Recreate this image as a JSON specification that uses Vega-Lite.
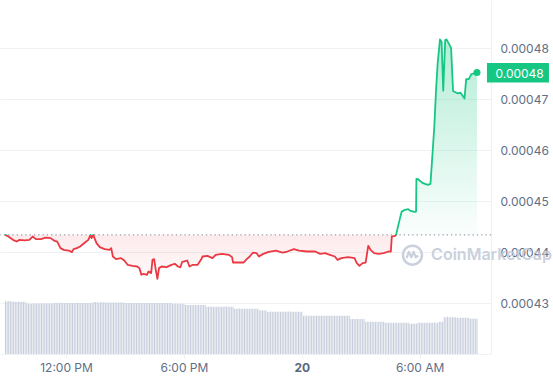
{
 "$schema": "https://vega.github.io/schema/vega-lite/v6.json",
 "width": 491, "height": 354,
 "autosize": {"type": "none"},
 "padding": {"left": 0, "top": 0, "right": 62, "bottom": 26},
 "background": "#ffffff",
 "config": {
  "view": {"stroke": null},
  "font": "Inter",
  "axis": {"labelFont": "Inter", "labelFontSize": 12, "labelColor": "#616e85", "gridColor": "#eff2f5", "domainColor": "#eff2f5", "tickColor": "#eff2f5"}
 },
 "datasets": {
  "price": [
{"t":"2024-05-19T08:55Z","p":0.00044339},
{"t":"2024-05-19T09:04Z","p":0.00044306},
{"t":"2024-05-19T09:18Z","p":0.00044241},
{"t":"2024-05-19T09:29Z","p":0.00044208},
{"t":"2024-05-19T09:38Z","p":0.00044241},
{"t":"2024-05-19T09:53Z","p":0.00044231},
{"t":"2024-05-19T10:08Z","p":0.00044241},
{"t":"2024-05-19T10:18Z","p":0.00044306},
{"t":"2024-05-19T10:28Z","p":0.00044255},
{"t":"2024-05-19T10:43Z","p":0.00044255},
{"t":"2024-05-19T10:58Z","p":0.00044286},
{"t":"2024-05-19T11:13Z","p":0.00044275},
{"t":"2024-05-19T11:23Z","p":0.00044227},
{"t":"2024-05-19T11:33Z","p":0.00044208},
{"t":"2024-05-19T11:43Z","p":0.00044078},
{"t":"2024-05-19T11:53Z","p":0.00044045},
{"t":"2024-05-19T12:08Z","p":0.00044031},
{"t":"2024-05-19T12:18Z","p":0.00044000},
{"t":"2024-05-19T12:23Z","p":0.00044059},
{"t":"2024-05-19T12:33Z","p":0.00044078},
{"t":"2024-05-19T12:43Z","p":0.00044110},
{"t":"2024-05-19T12:58Z","p":0.00044188},
{"t":"2024-05-19T13:08Z","p":0.00044241},
{"t":"2024-05-19T13:15Z","p":0.00044339},
{"t":"2024-05-19T13:18Z","p":0.00044275},
{"t":"2024-05-19T13:23Z","p":0.00044339},
{"t":"2024-05-19T13:33Z","p":0.00044176},
{"t":"2024-05-19T13:43Z","p":0.00044098},
{"t":"2024-05-19T13:58Z","p":0.00044059},
{"t":"2024-05-19T14:13Z","p":0.00044045},
{"t":"2024-05-19T14:18Z","p":0.00044078},
{"t":"2024-05-19T14:23Z","p":0.00043914},
{"t":"2024-05-19T14:33Z","p":0.00043863},
{"t":"2024-05-19T14:48Z","p":0.00043882},
{"t":"2024-05-19T14:58Z","p":0.00043835},
{"t":"2024-05-19T15:08Z","p":0.00043751},
{"t":"2024-05-19T15:23Z","p":0.00043731},
{"t":"2024-05-19T15:37Z","p":0.00043718},
{"t":"2024-05-19T15:44Z","p":0.00043686},
{"t":"2024-05-19T15:50Z","p":0.00043555},
{"t":"2024-05-19T15:57Z","p":0.00043575},
{"t":"2024-05-19T16:07Z","p":0.00043555},
{"t":"2024-05-19T16:12Z","p":0.00043620},
{"t":"2024-05-19T16:20Z","p":0.00043588},
{"t":"2024-05-19T16:24Z","p":0.00043849},
{"t":"2024-05-19T16:29Z","p":0.00043863},
{"t":"2024-05-19T16:34Z","p":0.00043653},
{"t":"2024-05-19T16:39Z","p":0.00043476},
{"t":"2024-05-19T16:44Z","p":0.00043686},
{"t":"2024-05-19T16:52Z","p":0.00043718},
{"t":"2024-05-19T17:07Z","p":0.00043706},
{"t":"2024-05-19T17:22Z","p":0.00043751},
{"t":"2024-05-19T17:32Z","p":0.00043771},
{"t":"2024-05-19T17:42Z","p":0.00043718},
{"t":"2024-05-19T17:49Z","p":0.00043702},
{"t":"2024-05-19T17:55Z","p":0.00043810},
{"t":"2024-05-19T18:10Z","p":0.00043835},
{"t":"2024-05-19T18:17Z","p":0.00043718},
{"t":"2024-05-19T18:27Z","p":0.00043751},
{"t":"2024-05-19T18:42Z","p":0.00043751},
{"t":"2024-05-19T18:52Z","p":0.00043849},
{"t":"2024-05-19T18:57Z","p":0.00043914},
{"t":"2024-05-19T19:12Z","p":0.00043927},
{"t":"2024-05-19T19:27Z","p":0.00043882},
{"t":"2024-05-19T19:37Z","p":0.00043947},
{"t":"2024-05-19T19:57Z","p":0.00043967},
{"t":"2024-05-19T20:17Z","p":0.00043947},
{"t":"2024-05-19T20:27Z","p":0.00043902},
{"t":"2024-05-19T20:30Z","p":0.00043796},
{"t":"2024-05-19T20:47Z","p":0.00043796},
{"t":"2024-05-19T21:02Z","p":0.00043796},
{"t":"2024-05-19T21:12Z","p":0.00043863},
{"t":"2024-05-19T21:21Z","p":0.00043914},
{"t":"2024-05-19T21:31Z","p":0.00043992},
{"t":"2024-05-19T21:42Z","p":0.00043980},
{"t":"2024-05-19T21:49Z","p":0.00043914},
{"t":"2024-05-19T22:01Z","p":0.00043961},
{"t":"2024-05-19T22:16Z","p":0.00044000},
{"t":"2024-05-19T22:41Z","p":0.00044031},
{"t":"2024-05-19T22:51Z","p":0.00044012},
{"t":"2024-05-19T23:01Z","p":0.00043992},
{"t":"2024-05-19T23:16Z","p":0.00044012},
{"t":"2024-05-19T23:36Z","p":0.00044059},
{"t":"2024-05-19T23:51Z","p":0.00044031},
{"t":"2024-05-20T00:16Z","p":0.00044012},
{"t":"2024-05-20T00:41Z","p":0.00044012},
{"t":"2024-05-20T00:56Z","p":0.00043967},
{"t":"2024-05-20T01:11Z","p":0.00043980},
{"t":"2024-05-20T01:26Z","p":0.00043947},
{"t":"2024-05-20T01:41Z","p":0.00043914},
{"t":"2024-05-20T01:49Z","p":0.00043849},
{"t":"2024-05-20T02:01Z","p":0.00043882},
{"t":"2024-05-20T02:21Z","p":0.00043902},
{"t":"2024-05-20T02:41Z","p":0.00043882},
{"t":"2024-05-20T02:48Z","p":0.00043784},
{"t":"2024-05-20T02:56Z","p":0.00043731},
{"t":"2024-05-20T03:06Z","p":0.00043784},
{"t":"2024-05-20T03:15Z","p":0.00043796},
{"t":"2024-05-20T03:23Z","p":0.00044124},
{"t":"2024-05-20T03:30Z","p":0.00044045},
{"t":"2024-05-20T03:41Z","p":0.00043980},
{"t":"2024-05-20T03:55Z","p":0.00043967},
{"t":"2024-05-20T04:10Z","p":0.00043980},
{"t":"2024-05-20T04:25Z","p":0.00044012},
{"t":"2024-05-20T04:32Z","p":0.00044012},
{"t":"2024-05-20T04:35Z","p":0.00044306},
{"t":"2024-05-20T04:45Z","p":0.00044320},
{"t":"2024-05-20T04:48Z","p":0.00044339},
{"t":"2024-05-20T04:55Z","p":0.00044535},
{"t":"2024-05-20T05:00Z","p":0.00044667},
{"t":"2024-05-20T05:05Z","p":0.00044796},
{"t":"2024-05-20T05:15Z","p":0.00044829},
{"t":"2024-05-20T05:25Z","p":0.00044843},
{"t":"2024-05-20T05:32Z","p":0.00044810},
{"t":"2024-05-20T05:45Z","p":0.00044790},
{"t":"2024-05-20T05:49Z","p":0.00044796},
{"t":"2024-05-20T05:50Z","p":0.00045437},
{"t":"2024-05-20T05:55Z","p":0.00045431},
{"t":"2024-05-20T06:10Z","p":0.00045353},
{"t":"2024-05-20T06:25Z","p":0.00045320},
{"t":"2024-05-20T06:33Z","p":0.00045339},
{"t":"2024-05-20T06:40Z","p":0.00046006},
{"t":"2024-05-20T06:45Z","p":0.00046496},
{"t":"2024-05-20T06:50Z","p":0.00047182},
{"t":"2024-05-20T06:55Z","p":0.00047712},
{"t":"2024-05-20T07:02Z","p":0.00048176},
{"t":"2024-05-20T07:07Z","p":0.00048129},
{"t":"2024-05-20T07:12Z","p":0.00047169},
{"t":"2024-05-20T07:18Z","p":0.00048163},
{"t":"2024-05-20T07:22Z","p":0.00048176},
{"t":"2024-05-20T07:30Z","p":0.00048084},
{"t":"2024-05-20T07:36Z","p":0.00048006},
{"t":"2024-05-20T07:42Z","p":0.00047163},
{"t":"2024-05-20T07:55Z","p":0.00047118},
{"t":"2024-05-20T08:05Z","p":0.00047129},
{"t":"2024-05-20T08:17Z","p":0.00047016},
{"t":"2024-05-20T08:22Z","p":0.00047398},
{"t":"2024-05-20T08:30Z","p":0.00047398},
{"t":"2024-05-20T08:38Z","p":0.00047496},
{"t":"2024-05-20T08:55Z","p":0.00047525}
  ],
  "last": [{"t":"2024-05-20T08:55Z","p":0.00047525}],
  "mark": [{"t":"2024-05-20T06:35Z","p":0.0004394,"name":"CoinMarketCap","lt":"2024-05-20T05:38Z"}],
  "vol": [
{"t":"2024-05-19T08:55Z","v":52.8},{"t":"2024-05-19T09:00Z","v":52.8},{"t":"2024-05-19T09:05Z","v":53},{"t":"2024-05-19T09:10Z","v":52.8},{"t":"2024-05-19T09:15Z","v":52.6},{"t":"2024-05-19T09:20Z","v":52.2},{"t":"2024-05-19T09:25Z","v":52.2},{"t":"2024-05-19T09:30Z","v":52},{"t":"2024-05-19T09:35Z","v":52.2},{"t":"2024-05-19T09:40Z","v":52.2},{"t":"2024-05-19T09:45Z","v":52.2},{"t":"2024-05-19T09:50Z","v":52.3},{"t":"2024-05-19T09:55Z","v":52.2},
{"t":"2024-05-19T10:00Z","v":50.6},{"t":"2024-05-19T10:05Z","v":50.4},{"t":"2024-05-19T10:10Z","v":50},{"t":"2024-05-19T10:15Z","v":50.3},{"t":"2024-05-19T10:20Z","v":50.5},{"t":"2024-05-19T10:25Z","v":50.6},{"t":"2024-05-19T10:30Z","v":50.3},{"t":"2024-05-19T10:35Z","v":50.5},{"t":"2024-05-19T10:40Z","v":50.8},{"t":"2024-05-19T10:45Z","v":50.5},{"t":"2024-05-19T10:50Z","v":50.5},{"t":"2024-05-19T10:55Z","v":50.7},
{"t":"2024-05-19T11:00Z","v":50.5},{"t":"2024-05-19T11:05Z","v":50.4},{"t":"2024-05-19T11:10Z","v":50.6},{"t":"2024-05-19T11:15Z","v":50.5},{"t":"2024-05-19T11:20Z","v":50.5},{"t":"2024-05-19T11:25Z","v":51},{"t":"2024-05-19T11:30Z","v":51.1},{"t":"2024-05-19T11:35Z","v":51},{"t":"2024-05-19T11:40Z","v":51},{"t":"2024-05-19T11:45Z","v":51.2},{"t":"2024-05-19T11:50Z","v":51},{"t":"2024-05-19T11:55Z","v":51},
{"t":"2024-05-19T12:00Z","v":51},{"t":"2024-05-19T12:05Z","v":51.1},{"t":"2024-05-19T12:10Z","v":51},{"t":"2024-05-19T12:15Z","v":51},{"t":"2024-05-19T12:20Z","v":51},{"t":"2024-05-19T12:25Z","v":51},{"t":"2024-05-19T12:30Z","v":51},{"t":"2024-05-19T12:35Z","v":51.2},{"t":"2024-05-19T12:40Z","v":51},{"t":"2024-05-19T12:45Z","v":51},{"t":"2024-05-19T12:50Z","v":51},{"t":"2024-05-19T12:55Z","v":51},
{"t":"2024-05-19T13:00Z","v":51},{"t":"2024-05-19T13:05Z","v":51.1},{"t":"2024-05-19T13:10Z","v":51},{"t":"2024-05-19T13:15Z","v":51},{"t":"2024-05-19T13:20Z","v":51.3},{"t":"2024-05-19T13:25Z","v":51.8},{"t":"2024-05-19T13:30Z","v":52},{"t":"2024-05-19T13:35Z","v":51.8},{"t":"2024-05-19T13:40Z","v":51.4},{"t":"2024-05-19T13:45Z","v":51.8},{"t":"2024-05-19T13:50Z","v":51.8},{"t":"2024-05-19T13:55Z","v":51.8},
{"t":"2024-05-19T14:00Z","v":51.5},{"t":"2024-05-19T14:05Z","v":51.5},{"t":"2024-05-19T14:10Z","v":51.6},{"t":"2024-05-19T14:15Z","v":51.5},{"t":"2024-05-19T14:20Z","v":51.5},{"t":"2024-05-19T14:25Z","v":51.5},{"t":"2024-05-19T14:30Z","v":51.5},{"t":"2024-05-19T14:35Z","v":51.6},{"t":"2024-05-19T14:40Z","v":51.5},{"t":"2024-05-19T14:45Z","v":51.5},{"t":"2024-05-19T14:50Z","v":51.5},{"t":"2024-05-19T14:55Z","v":51.5},
{"t":"2024-05-19T15:00Z","v":51},{"t":"2024-05-19T15:05Z","v":51},{"t":"2024-05-19T15:10Z","v":51.1},{"t":"2024-05-19T15:15Z","v":51},{"t":"2024-05-19T15:20Z","v":51},{"t":"2024-05-19T15:25Z","v":51},{"t":"2024-05-19T15:30Z","v":51},{"t":"2024-05-19T15:35Z","v":51},{"t":"2024-05-19T15:40Z","v":51.1},{"t":"2024-05-19T15:45Z","v":51},{"t":"2024-05-19T15:50Z","v":51},{"t":"2024-05-19T15:55Z","v":51},
{"t":"2024-05-19T16:00Z","v":51},{"t":"2024-05-19T16:05Z","v":51},{"t":"2024-05-19T16:10Z","v":51},{"t":"2024-05-19T16:15Z","v":51.1},{"t":"2024-05-19T16:20Z","v":51},{"t":"2024-05-19T16:25Z","v":51},{"t":"2024-05-19T16:30Z","v":51},{"t":"2024-05-19T16:35Z","v":51},{"t":"2024-05-19T16:40Z","v":51},{"t":"2024-05-19T16:45Z","v":51},{"t":"2024-05-19T16:50Z","v":51},{"t":"2024-05-19T16:55Z","v":51},
{"t":"2024-05-19T17:00Z","v":51.1},{"t":"2024-05-19T17:05Z","v":51},{"t":"2024-05-19T17:10Z","v":51},{"t":"2024-05-19T17:15Z","v":51},{"t":"2024-05-19T17:20Z","v":51},{"t":"2024-05-19T17:25Z","v":50.3},{"t":"2024-05-19T17:30Z","v":50.3},{"t":"2024-05-19T17:35Z","v":50.4},{"t":"2024-05-19T17:40Z","v":50.3},{"t":"2024-05-19T17:45Z","v":50.3},{"t":"2024-05-19T17:50Z","v":50.2},{"t":"2024-05-19T17:55Z","v":50.3},
{"t":"2024-05-19T18:00Z","v":50.3},{"t":"2024-05-19T18:05Z","v":49},{"t":"2024-05-19T18:10Z","v":49},{"t":"2024-05-19T18:15Z","v":49.1},{"t":"2024-05-19T18:20Z","v":49},{"t":"2024-05-19T18:25Z","v":49},{"t":"2024-05-19T18:30Z","v":49},{"t":"2024-05-19T18:35Z","v":48.9},{"t":"2024-05-19T18:40Z","v":49},{"t":"2024-05-19T18:45Z","v":49},{"t":"2024-05-19T18:50Z","v":49},{"t":"2024-05-19T18:55Z","v":49.1},
{"t":"2024-05-19T19:00Z","v":49},{"t":"2024-05-19T19:05Z","v":49},{"t":"2024-05-19T19:10Z","v":47.3},{"t":"2024-05-19T19:15Z","v":47.3},{"t":"2024-05-19T19:20Z","v":47.4},{"t":"2024-05-19T19:25Z","v":47.3},{"t":"2024-05-19T19:30Z","v":47.3},{"t":"2024-05-19T19:35Z","v":47.3},{"t":"2024-05-19T19:40Z","v":47.2},{"t":"2024-05-19T19:45Z","v":47.3},{"t":"2024-05-19T19:50Z","v":47.3},{"t":"2024-05-19T19:55Z","v":47.3},
{"t":"2024-05-19T20:00Z","v":47.3},{"t":"2024-05-19T20:05Z","v":47.4},{"t":"2024-05-19T20:10Z","v":47.3},{"t":"2024-05-19T20:15Z","v":47.3},{"t":"2024-05-19T20:20Z","v":47.3},{"t":"2024-05-19T20:25Z","v":47.3},{"t":"2024-05-19T20:30Z","v":47.3},{"t":"2024-05-19T20:35Z","v":45.3},{"t":"2024-05-19T20:40Z","v":45.3},{"t":"2024-05-19T20:45Z","v":45.4},{"t":"2024-05-19T20:50Z","v":45.3},{"t":"2024-05-19T20:55Z","v":45.3},
{"t":"2024-05-19T21:00Z","v":45.3},{"t":"2024-05-19T21:05Z","v":45.3},{"t":"2024-05-19T21:10Z","v":45.2},{"t":"2024-05-19T21:15Z","v":45.3},{"t":"2024-05-19T21:20Z","v":45.3},{"t":"2024-05-19T21:25Z","v":45.3},{"t":"2024-05-19T21:30Z","v":45.3},{"t":"2024-05-19T21:35Z","v":45.3},{"t":"2024-05-19T21:40Z","v":45.3},{"t":"2024-05-19T21:45Z","v":45.3},{"t":"2024-05-19T21:50Z","v":43.7},{"t":"2024-05-19T21:55Z","v":43.7},
{"t":"2024-05-19T22:00Z","v":43.7},{"t":"2024-05-19T22:05Z","v":43.7},{"t":"2024-05-19T22:10Z","v":43.7},{"t":"2024-05-19T22:15Z","v":42.3},{"t":"2024-05-19T22:20Z","v":42.3},{"t":"2024-05-19T22:25Z","v":42.4},{"t":"2024-05-19T22:30Z","v":42.3},{"t":"2024-05-19T22:35Z","v":42.3},{"t":"2024-05-19T22:40Z","v":42.3},{"t":"2024-05-19T22:45Z","v":42.3},{"t":"2024-05-19T22:50Z","v":42.2},{"t":"2024-05-19T22:55Z","v":42.3},
{"t":"2024-05-19T23:00Z","v":42.3},{"t":"2024-05-19T23:05Z","v":42.3},{"t":"2024-05-19T23:10Z","v":42.3},{"t":"2024-05-19T23:15Z","v":42.3},{"t":"2024-05-19T23:20Z","v":42.4},{"t":"2024-05-19T23:25Z","v":42.3},{"t":"2024-05-19T23:30Z","v":42.3},{"t":"2024-05-19T23:35Z","v":42.3},{"t":"2024-05-19T23:40Z","v":42.3},{"t":"2024-05-19T23:45Z","v":42.3},{"t":"2024-05-19T23:50Z","v":42.3},{"t":"2024-05-19T23:55Z","v":42.3},
{"t":"2024-05-20T00:00Z","v":42.3},{"t":"2024-05-20T00:05Z","v":38.3},{"t":"2024-05-20T00:10Z","v":38.3},{"t":"2024-05-20T00:15Z","v":38.4},{"t":"2024-05-20T00:20Z","v":38.3},{"t":"2024-05-20T00:25Z","v":38.3},{"t":"2024-05-20T00:30Z","v":38.3},{"t":"2024-05-20T00:35Z","v":38.3},{"t":"2024-05-20T00:40Z","v":38.2},{"t":"2024-05-20T00:45Z","v":38.3},{"t":"2024-05-20T00:50Z","v":38.3},{"t":"2024-05-20T00:55Z","v":38.3},
{"t":"2024-05-20T01:00Z","v":38.3},{"t":"2024-05-20T01:05Z","v":38.3},{"t":"2024-05-20T01:10Z","v":38.3},{"t":"2024-05-20T01:15Z","v":38.3},{"t":"2024-05-20T01:20Z","v":38.4},{"t":"2024-05-20T01:25Z","v":38.3},{"t":"2024-05-20T01:30Z","v":38.3},{"t":"2024-05-20T01:35Z","v":38.3},{"t":"2024-05-20T01:40Z","v":38.3},{"t":"2024-05-20T01:45Z","v":38.3},{"t":"2024-05-20T01:50Z","v":38.3},{"t":"2024-05-20T01:55Z","v":38.3},
{"t":"2024-05-20T02:00Z","v":38.3},{"t":"2024-05-20T02:05Z","v":38.3},{"t":"2024-05-20T02:10Z","v":38.3},{"t":"2024-05-20T02:15Z","v":38.3},{"t":"2024-05-20T02:20Z","v":38.3},{"t":"2024-05-20T02:25Z","v":38.3},{"t":"2024-05-20T02:30Z","v":35},{"t":"2024-05-20T02:35Z","v":35},{"t":"2024-05-20T02:40Z","v":35.1},{"t":"2024-05-20T02:45Z","v":35},{"t":"2024-05-20T02:50Z","v":35},{"t":"2024-05-20T02:55Z","v":35},
{"t":"2024-05-20T03:00Z","v":35},{"t":"2024-05-20T03:05Z","v":35},{"t":"2024-05-20T03:10Z","v":35},{"t":"2024-05-20T03:15Z","v":32.3},{"t":"2024-05-20T03:20Z","v":32.3},{"t":"2024-05-20T03:25Z","v":32.3},{"t":"2024-05-20T03:30Z","v":32.4},{"t":"2024-05-20T03:35Z","v":32.3},{"t":"2024-05-20T03:40Z","v":32.3},{"t":"2024-05-20T03:45Z","v":32.3},{"t":"2024-05-20T03:50Z","v":32.3},{"t":"2024-05-20T03:55Z","v":32.3},
{"t":"2024-05-20T04:00Z","v":32.3},{"t":"2024-05-20T04:05Z","v":32.3},{"t":"2024-05-20T04:10Z","v":32.3},{"t":"2024-05-20T04:15Z","v":31.3},{"t":"2024-05-20T04:20Z","v":31.3},{"t":"2024-05-20T04:25Z","v":31.3},{"t":"2024-05-20T04:30Z","v":31.3},{"t":"2024-05-20T04:35Z","v":31.3},{"t":"2024-05-20T04:40Z","v":31.3},{"t":"2024-05-20T04:45Z","v":31.3},{"t":"2024-05-20T04:50Z","v":31.3},{"t":"2024-05-20T04:55Z","v":31.3},
{"t":"2024-05-20T05:00Z","v":31.3},{"t":"2024-05-20T05:05Z","v":31.3},{"t":"2024-05-20T05:10Z","v":31.3},{"t":"2024-05-20T05:15Z","v":31.3},{"t":"2024-05-20T05:20Z","v":31.3},{"t":"2024-05-20T05:25Z","v":31.3},{"t":"2024-05-20T05:30Z","v":30.3},{"t":"2024-05-20T05:35Z","v":30.3},{"t":"2024-05-20T05:40Z","v":30.3},{"t":"2024-05-20T05:45Z","v":30.3},{"t":"2024-05-20T05:50Z","v":30.3},{"t":"2024-05-20T05:55Z","v":31.3},
{"t":"2024-05-20T06:00Z","v":31.3},{"t":"2024-05-20T06:05Z","v":31.3},{"t":"2024-05-20T06:10Z","v":31.3},{"t":"2024-05-20T06:15Z","v":31.3},{"t":"2024-05-20T06:20Z","v":31.3},{"t":"2024-05-20T06:25Z","v":31.3},{"t":"2024-05-20T06:30Z","v":31.3},{"t":"2024-05-20T06:35Z","v":31.3},{"t":"2024-05-20T06:40Z","v":31.3},{"t":"2024-05-20T06:45Z","v":31.4},{"t":"2024-05-20T06:50Z","v":31.3},{"t":"2024-05-20T06:55Z","v":31.3},
{"t":"2024-05-20T07:00Z","v":32.3},{"t":"2024-05-20T07:05Z","v":32.3},{"t":"2024-05-20T07:10Z","v":32.3},{"t":"2024-05-20T07:15Z","v":36.8},{"t":"2024-05-20T07:20Z","v":36.8},{"t":"2024-05-20T07:25Z","v":37.3},{"t":"2024-05-20T07:30Z","v":36.8},{"t":"2024-05-20T07:35Z","v":36.8},{"t":"2024-05-20T07:40Z","v":36.8},{"t":"2024-05-20T07:45Z","v":36.8},{"t":"2024-05-20T07:50Z","v":36.8},{"t":"2024-05-20T07:55Z","v":36.2},
{"t":"2024-05-20T08:00Z","v":36.2},{"t":"2024-05-20T08:05Z","v":36.2},{"t":"2024-05-20T08:10Z","v":36.2},{"t":"2024-05-20T08:15Z","v":36.2},{"t":"2024-05-20T08:20Z","v":36.2},{"t":"2024-05-20T08:25Z","v":36.2},{"t":"2024-05-20T08:30Z","v":36.2},{"t":"2024-05-20T08:35Z","v":35.3},{"t":"2024-05-20T08:40Z","v":35.3},{"t":"2024-05-20T08:45Z","v":35.3},{"t":"2024-05-20T08:50Z","v":35.3},{"t":"2024-05-20T08:55Z","v":35.3}
  ]
 },
 "layer": [
  {
   "data": {"name": "price"},
   "mark": {"type": "line", "opacity": 0},
   "encoding": {
    "x": {"field": "t", "type": "temporal", "title": null, "scale": {"type": "utc", "domain": [{"year":2024,"month":5,"date":19,"hours":8,"minutes":53,"seconds":36,"utc":true},{"year":2024,"month":5,"date":20,"hours":9,"minutes":22,"seconds":36,"utc":true}]},
     "axis": {
      "orient": "bottom", "grid": false, "ticks": true, "tickSize": 4, "labelPadding": 4, "domain": true, "labelFlush": false,
      "values": [{"year":2024,"month":5,"date":19,"hours":12,"utc":true},{"year":2024,"month":5,"date":19,"hours":18,"utc":true},{"year":2024,"month":5,"date":20,"hours":6,"utc":true}],
      "format": "%-I:%M %p"
     }},
    "y": {"field": "p", "type": "quantitative", "title": null, "scale": {"domain": [0.00042, 0.0004895], "nice": false, "zero": false},
     "axis": {"orient": "right", "grid": true, "ticks": false, "labelPadding": 9, "domain": true, "values": [0.00043, 0.00044, 0.00045, 0.00046, 0.00047, 0.00048], "format": ".5f"}}
   }
  },
  {
   "data": {"name": "price"},
   "mark": {"type": "line", "opacity": 0},
   "encoding": {
    "x": {"field": "t", "type": "temporal", "title": null, "scale": {"type": "utc"},
     "axis": {
      "orient": "bottom", "grid": false, "ticks": true, "tickSize": 4, "labelPadding": 4, "domain": false, "labelFlush": false,
      "values": [{"year":2024,"month":5,"date":20,"hours":0,"utc":true}],
      "format": "%-d", "labelFontWeight": "bold", "labelColor": "#58667e"
     }},
    "y": {"field": "p", "type": "quantitative", "title": null, "axis": null, "scale": {"domain": [0.00042, 0.0004895], "nice": false, "zero": false}}
   }
  },
  {
   "data": {"name": "vol"},
   "mark": {"type": "bar", "width": 1.05, "color": "#c6cedc"},
   "encoding": {
    "x": {"field": "t", "type": "temporal", "title": null, "axis": null},
    "y": {"field": "v", "type": "quantitative", "title": null, "axis": null, "scale": {"domain": [0, 354], "nice": false, "zero": true}}
   }
  },
  {
   "data": {"name": "price"},
   "mark": {"type": "area", "fill": {"gradient": "linear", "x1": 0, "y1": 0, "x2": 0, "y2": 1, "stops": [{"offset": 0, "color": "rgba(22,199,132,0.32)"}, {"offset": 0.8164, "color": "rgba(22,199,132,0.02)"}, {"offset": 0.8164, "color": "rgba(234,57,67,0.10)"}, {"offset": 1, "color": "rgba(234,57,67,0.03)"}]}},
   "encoding": {
    "x": {"field": "t", "type": "temporal", "title": null, "axis": null},
    "y": {"field": "p", "type": "quantitative", "title": null, "axis": null, "scale": {"domain": [0.00042, 0.0004895], "nice": false, "zero": false}},
    "y2": {"datum": 0.00044339}
   }
  },
  {
   "data": {"values": [{"b": 0.00044339}]},
   "mark": {"type": "rule", "strokeDash": [1.3, 3], "color": "#7f889b", "strokeWidth": 1},
   "encoding": {"y": {"field": "b", "type": "quantitative", "axis": null, "title": null, "scale": {"domain": [0.00042, 0.0004895], "nice": false, "zero": false}}}
  },
  {
   "data": {"name": "price"},
   "mark": {"type": "line", "strokeWidth": 1.8, "strokeJoin": "round", "strokeCap": "round", "stroke": {"gradient": "linear", "x1": 0, "y1": 0, "x2": 0, "y2": 1, "stops": [{"offset": 0, "color": "#16c784"}, {"offset": 0.8164, "color": "#16c784"}, {"offset": 0.8164, "color": "#ea3943"}, {"offset": 1, "color": "#ea3943"}]}},
   "encoding": {
    "x": {"field": "t", "type": "temporal", "title": null, "axis": null},
    "y": {"field": "p", "type": "quantitative", "title": null, "axis": null, "scale": {"domain": [0.00042, 0.0004895], "nice": false, "zero": false}}
   }
  },
  {
   "data": {"name": "last"},
   "mark": {"type": "point", "shape": "M1,-0.95H7.2V1H1Z", "size": 400, "filled": true, "color": "#16c784", "opacity": 1, "strokeWidth": 0},
   "encoding": {
    "x": {"field": "t", "type": "temporal", "title": null, "axis": null},
    "y": {"field": "p", "type": "quantitative", "title": null, "axis": null, "scale": {"domain": [0.00042, 0.0004895], "nice": false, "zero": false}}
   }
  },
  {
   "data": {"name": "last"},
   "mark": {"type": "text", "align": "left", "baseline": "middle", "dx": 18.5, "dy": 1, "fontSize": 12, "color": "#ffffff", "font": "Inter"},
   "encoding": {
    "x": {"field": "t", "type": "temporal", "title": null, "axis": null},
    "y": {"field": "p", "type": "quantitative", "title": null, "axis": null, "scale": {"domain": [0.00042, 0.0004895], "nice": false, "zero": false}},
    "text": {"field": "p", "type": "quantitative", "format": ".5f"}
   }
  },
  {
   "data": {"name": "last"},
   "mark": {"type": "point", "shape": "circle", "size": 50, "filled": true, "color": "#16c784", "opacity": 1},
   "encoding": {
    "x": {"field": "t", "type": "temporal", "title": null, "axis": null},
    "y": {"field": "p", "type": "quantitative", "title": null, "axis": null, "scale": {"domain": [0.00042, 0.0004895], "nice": false, "zero": false}}
   }
  },
  {
   "data": {"name": "mark"},
   "mark": {"type": "text", "align": "left", "baseline": "middle", "fontSize": 16, "fontWeight": 600, "color": "#c3cad7", "opacity": 0.85, "font": "Inter"},
   "encoding": {
    "x": {"field": "t", "type": "temporal", "title": null, "axis": null},
    "y": {"field": "p", "type": "quantitative", "title": null, "axis": null, "scale": {"domain": [0.00042, 0.0004895], "nice": false, "zero": false}},
    "text": {"field": "name", "type": "nominal"}
   }
  },
  {
   "data": {"name": "mark"},
   "mark": {"type": "point", "shape": "circle", "size": 360, "filled": false, "strokeWidth": 2.5, "color": "#c3cad7", "opacity": 0.85},
   "encoding": {
    "x": {"field": "lt", "type": "temporal", "title": null, "axis": null},
    "y": {"field": "p", "type": "quantitative", "title": null, "axis": null, "scale": {"domain": [0.00042, 0.0004895], "nice": false, "zero": false}}
   }
  },
  {
   "data": {"name": "mark"},
   "mark": {"type": "point", "shape": "M-0.62,0.3L-0.38,-0.35L-0.12,0.22L0.12,-0.35L0.35,0.22L0.62,0.05", "size": 360, "filled": false, "strokeWidth": 2.2, "strokeJoin": "round", "color": "#c3cad7", "opacity": 0.85},
   "encoding": {
    "x": {"field": "lt", "type": "temporal", "title": null, "axis": null},
    "y": {"field": "p", "type": "quantitative", "title": null, "axis": null, "scale": {"domain": [0.00042, 0.0004895], "nice": false, "zero": false}}
   }
  }
 ],
 "resolve": {"scale": {"y": "independent"}, "axis": {"y": "independent", "x": "independent"}}
}
